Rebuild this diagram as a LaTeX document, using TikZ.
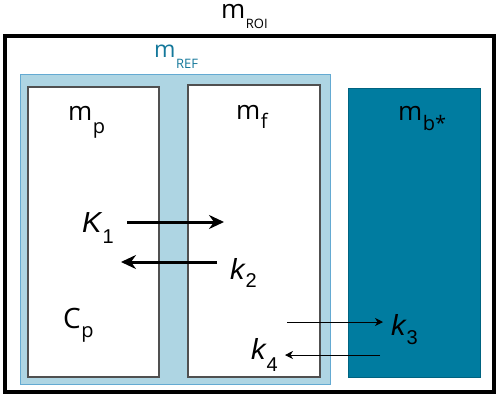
\documentclass[tikz,border=0pt]{standalone}
\usepackage{fontspec}
\setmainfont{Open Sans}
\newfontfamily\arialfont{Liberation Sans}
\usetikzlibrary{arrows.meta}
\definecolor{reffill}{RGB}{174,213,227}
\definecolor{refline}{RGB}{100,170,210}
\definecolor{tealbox}{RGB}{0,124,160}
\definecolor{tealtext}{RGB}{20,120,155}
\definecolor{boxline}{RGB}{80,80,80}
\newcommand{\lblsub}[4]{#1\kern0.5pt\lower#4pt\hbox{\fontsize{#3}{#3}\selectfont #2}}
\newcommand{\kitl}[3]{{\arialfont\itshape\fontsize{29}{29}\selectfont #1}\kern1pt\lower#3pt\hbox{\arialfont\fontsize{20}{20}\selectfont #2}}
\begin{document}
\begin{tikzpicture}[x=1pt,y=-1pt,
  box/.style={anchor=north west,inner sep=0pt,outer sep=0pt},
  lbl/.style={anchor=base west,inner sep=0pt,text height=0.6em,font=\fontsize{26}{26}\selectfont},
  thick arrow/.style={line width=3pt,-{Stealth[length=15pt,width=14pt,inset=5pt]}},
  thin arrow/.style={line width=0.9pt,-{Stealth[length=8pt,width=8pt,inset=2.5pt]}}]
\useasboundingbox (0,0) rectangle (500,399);
\fill[white] (0,0) rectangle (500,399);
% outer ROI
\node[box,draw=black,line width=4pt,minimum width=489pt,minimum height=356.5pt] (roi) at (5,35.5) {};
% REF region
\node[box,draw=refline,fill=reffill,line width=0.8pt,minimum width=310pt,minimum height=310pt] (ref) at (20,74) {};
% compartments
\node[box,draw=boxline,fill=white,line width=1.2pt,minimum width=131pt,minimum height=290pt] (mpbox) at (28,87) {};
\node[box,draw=boxline,fill=white,line width=1.2pt,minimum width=132pt,minimum height=292pt] (mfbox) at (188,85) {};
\node[box,draw=tealbox!80!black,fill=tealbox,line width=0.8pt,minimum width=132pt,minimum height=289pt] (mbbox) at (348,88) {};
% labels
\node[lbl] (mroi) at (221,18) {\lblsub{m}{ROI}{13}{10}};
\node[lbl,text=tealtext,font=\fontsize{23}{23}\selectfont] (mref) at (154,57) {\lblsub{m}{REF}{13}{11}};
\node[lbl] (mp) at (68,120) {\lblsub{m}{p}{20}{13}};
\node[lbl] (mf) at (236,119) {\lblsub{m}{f}{20}{9}};
\node[lbl] (mb) at (398,120) {\lblsub{m}{b*}{20}{10}};
\node[lbl,font=\fontsize{28}{28}\selectfont] (cp) at (63,328) {\lblsub{C}{p}{20}{9}};
\node[lbl] (k1) at (82,232) {\kitl{K}{1}{11}};
\node[lbl] (k2) at (230,279) {\kitl{k}{2}{8}};
\node[lbl] (k3) at (391,335) {\kitl{k}{3}{9}};
\node[lbl] (k4) at (251,359) {\kitl{k}{4}{12}};
% arrows
\coordinate (a1s) at (127,222);
\coordinate (a1e) at (224,222);
\coordinate (a2s) at (217,262);
\coordinate (a2e) at (121,262);
\coordinate (a3s) at (287,322);
\coordinate (a3e) at (383,322);
\coordinate (a4s) at (380,355);
\coordinate (a4e) at (285,355);
\draw[thick arrow] (a1s) -- (a1e);
\draw[thick arrow] (a2s) -- (a2e);
\draw[thin arrow] (a3s) -- (a3e);
\draw[thin arrow] (a4s) -- (a4e);
\end{tikzpicture}
\end{document}
